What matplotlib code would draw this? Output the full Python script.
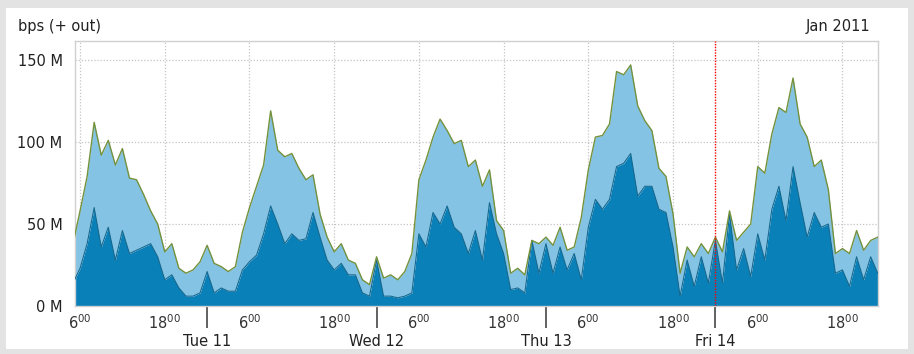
import matplotlib
matplotlib.use("Agg")
import matplotlib.pyplot as plt
import matplotlib.dates as mdates
from matplotlib.patches import Rectangle
from matplotlib.ticker import FuncFormatter
import pandas as pd

# hourly outbound traffic, Mbit/s, starting Mon 10 Jan 2011 05:00
total_mbps = [38, 58, 79, 112, 92, 101, 86, 96, 78, 77, 68, 58, 50, 33, 38, 23, 20, 22, 27, 37,
              26, 24, 21, 24, 45, 60, 73, 86, 119, 95, 91, 93, 84, 77, 80, 56, 42, 33, 38, 28,
              26, 16, 13, 30, 17, 19, 16, 21, 32, 77, 89, 103, 114, 107, 99, 101, 85, 89, 73, 83,
              52, 46, 20, 23, 19, 40, 38, 42, 37, 48, 34, 36, 54, 83, 103, 104, 111, 143, 141, 147,
              122, 113, 107, 84, 79, 56, 20, 36, 30, 38, 32, 42, 33, 58, 40, 45, 50, 85, 81, 105,
              121, 118, 139, 111, 103, 85, 89, 71, 32, 35, 32, 46, 34, 40, 42]
core_mbps = [14, 23, 38, 60, 36, 48, 28, 46, 32, 34, 36, 38, 30, 16, 19, 11, 6, 6, 8, 21,
             8, 11, 9, 9, 22, 27, 31, 44, 61, 50, 38, 44, 40, 41, 57, 42, 28, 22, 26, 19,
             19, 8, 6, 28, 6, 6, 5, 6, 8, 44, 36, 57, 50, 61, 48, 44, 32, 46, 28, 63,
             44, 32, 10, 11, 8, 40, 20, 38, 20, 36, 22, 32, 16, 48, 65, 59, 65, 85, 87, 93,
             67, 73, 73, 59, 57, 36, 6, 28, 12, 30, 14, 40, 14, 56, 22, 35, 18, 44, 28, 59,
             73, 52, 85, 63, 42, 57, 48, 50, 20, 22, 12, 30, 16, 30, 20]
y_ticks = [0, 50, 100, 150]
y_labels = ["0 M", "50 M", "100 M", "150 M"]

times = pd.date_range("2011-01-10 05:00", periods=len(total_mbps), freq="h")
now = pd.Timestamp("2011-01-14 00:00")

fig = plt.figure(figsize=(9.14, 3.54), dpi=100, facecolor="#e3e3e3")
fig.add_artist(Rectangle((6 / 914, 5 / 354), 902 / 914, 341 / 354,
                         transform=fig.transFigure, facecolor="white",
                         edgecolor="none", zorder=-1))
ax = fig.add_axes([75 / 914, 48 / 354, 803 / 914, 265 / 354])

ax.fill_between(times, 0, core_mbps, color="#0a80b9", lw=0, zorder=2)
ax.fill_between(times, core_mbps, total_mbps, color="#84c3e4", lw=0, zorder=2)
ax.plot(times, core_mbps, color="#17698f", lw=0.8, zorder=3)
ax.plot(times, total_mbps, color="#74913c", lw=1.0, zorder=3)
ax.axvline(now, color="red", ls=(0, (1, 1)), lw=1.0, zorder=4)

ax.set_xlim(pd.Timestamp("2011-01-10 05:17"), pd.Timestamp("2011-01-14 23:02"))
ax.set_ylim(0, 161.6)

ax.set_yticks(y_ticks)
ax.set_yticklabels(y_labels)
ax.tick_params(axis="y", length=0, pad=9, labelsize=10.5, labelcolor="#222222")

ax.xaxis.set_major_locator(mdates.HourLocator(byhour=[6, 18]))
ax.xaxis.set_major_formatter(FuncFormatter(
    lambda v, pos: r"$%d^{00}$" % mdates.num2date(v).hour))
ax.xaxis.set_minor_locator(mdates.DayLocator())
ax.xaxis.set_minor_formatter(mdates.DateFormatter("%a %d"))
ax.tick_params(axis="x", which="major", length=0, pad=5, labelsize=10.5,
               labelcolor="#333333")
ax.tick_params(axis="x", which="minor", length=16, width=1.3, color="#555555",
               pad=4, labelsize=10.5, labelcolor="#222222")

ax.grid(True, which="major", color="#c4c4c4", ls=(0, (1, 1.5)), lw=0.9)
ax.set_axisbelow(True)
for s in ax.spines.values():
    s.set_color("#d0d0d0")
    s.set_linewidth(1.0)

fig.text(18 / 914, 1 - 27 / 354, "bps (+ out)", ha="left", va="center",
         fontsize=10.5, color="#222222")
fig.text(870 / 914, 1 - 27 / 354, "Jan 2011", ha="right", va="center",
         fontsize=10.5, color="#222222")

fig.savefig("out.png", dpi=100, facecolor=fig.get_facecolor())
